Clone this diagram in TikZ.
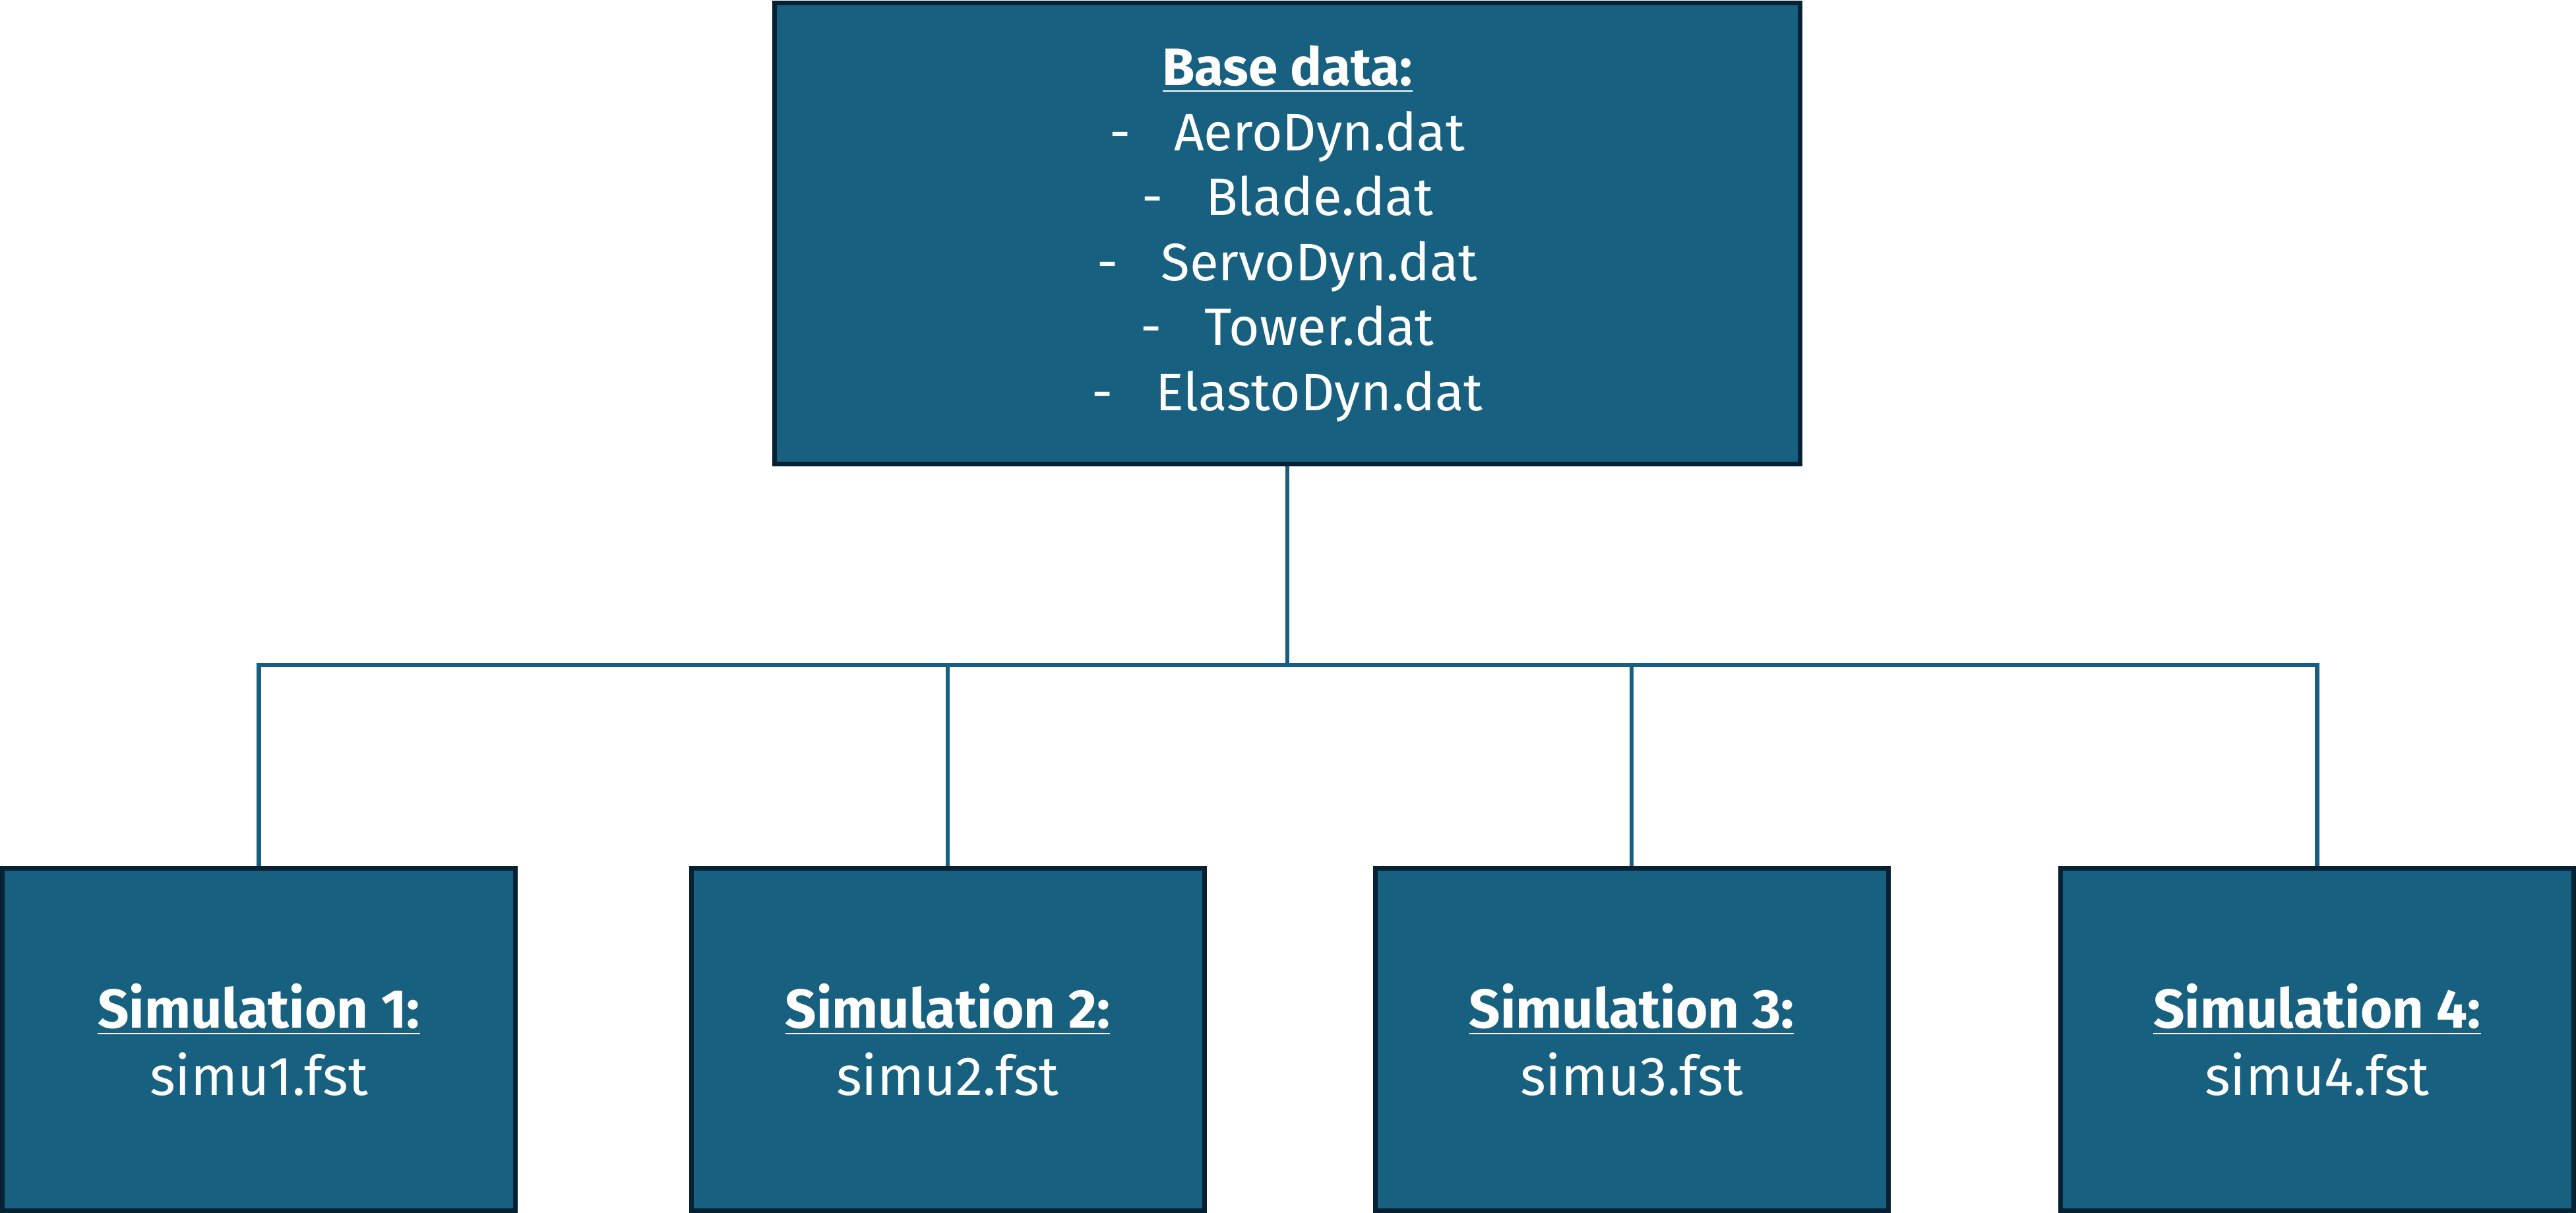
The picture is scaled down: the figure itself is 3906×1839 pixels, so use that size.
\documentclass[tikz,border=0pt]{standalone}
\usepackage{fontspec}
\setmainfont{Fira Sans}
\definecolor{boxfill}{RGB}{23,96,128}
\definecolor{boxline}{RGB}{5,33,51}
\definecolor{connline}{RGB}{23,96,128}
\begin{document}
\begin{tikzpicture}[x=0.2pt,y=-0.2pt,
  boxstyle/.style={rectangle, draw=boxline, fill=boxfill, line width=1.4pt,
    text=white, align=center, inner sep=0pt},
  topbox/.style={boxstyle, minimum width=311pt, minimum height=139.8pt,
    font=\fontsize{16}{19.7}\selectfont},
  simbox/.style={boxstyle, minimum width=155.6pt, minimum height=103.8pt,
    font=\fontsize{16.6}{20.4}\selectfont},
  conn/.style={draw=connline, line width=1.3pt}]
\useasboundingbox (0,0) rectangle (3906,1839);
\node[topbox] (base) at (1952,354) {\textbf{\underline{Base data:}}\\
  -\hspace{13pt}AeroDyn.dat\\
  -\hspace{13pt}Blade.dat\\
  -\hspace{13pt}ServoDyn.dat\\
  -\hspace{13pt}Tower.dat\\
  -\hspace{13pt}ElastoDyn.dat};
\node[simbox] (s1) at (392.5,1576) {\textbf{\underline{Simulation 1:}}\\simu1.fst};
\node[simbox] (s2) at (1437,1576) {\textbf{\underline{Simulation 2:}}\\simu2.fst};
\node[simbox] (s3) at (2474,1576) {\textbf{\underline{Simulation 3:}}\\simu3.fst};
\node[simbox] (s4) at (3513.5,1576) {\textbf{\underline{Simulation 4:}}\\simu4.fst};
\coordinate (bus) at (1952,1008);
\draw[conn] (base.south) -- (bus);
\draw[conn] (s1.north) |- (bus);
\draw[conn] (s4.north) |- (bus);
\draw[conn] (s2.north) -- (s2.north |- bus);
\draw[conn] (s3.north) -- (s3.north |- bus);
\end{tikzpicture}
\end{document}
